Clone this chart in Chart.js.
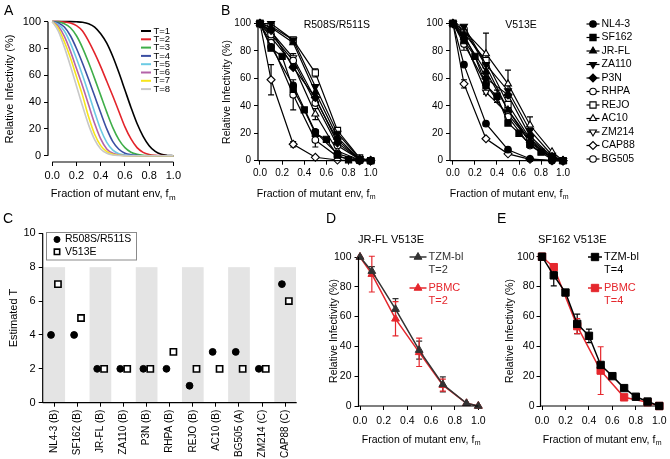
<!DOCTYPE html>
<html>
<head>
<meta charset="utf-8">
<script src="https://cdn.jsdelivr.net/npm/chart.js@4.4.1/dist/chart.umd.min.js"></script>
<style>
  html, body { margin: 0; padding: 0; background: #fff; }
  #wrap { position: relative; width: 670px; height: 459px; }
  #wrap canvas { position: absolute; left: 0; top: 0; }
</style>
</head>
<body>
<div id="wrap">
  <canvas id="cA" width="670" height="459"></canvas>
  <canvas id="cB1" width="670" height="459"></canvas>
  <canvas id="cB2" width="670" height="459"></canvas>
  <canvas id="cC" width="670" height="459"></canvas>
  <canvas id="cD" width="670" height="459"></canvas>
  <canvas id="cE" width="670" height="459"></canvas>
</div>
<script>
// ---- panel A: model curves at f = 0, 0.05 ... 1.0
const fGrid = [0, 0.05, 0.1, 0.15, 0.2, 0.25, 0.3, 0.35, 0.4, 0.45, 0.5, 0.55, 0.6, 0.65, 0.7, 0.75, 0.8, 0.85, 0.9, 0.95, 1.0];
const tLabels = ['T=1', 'T=2', 'T=3', 'T=4', 'T=5', 'T=6', 'T=7', 'T=8'];
const curveT1 = [100, 100, 100, 100, 99.9, 99.6, 98.5, 96, 91, 84, 74, 62, 49, 36, 24, 14.5, 7.5, 3.2, 1, 0.2, 0];
const curveT2 = [100, 100, 99.8, 99, 97, 93, 85.5, 76.5, 66.5, 55.5, 44.5, 33, 21.5, 12.5, 6, 2.5, 0.9, 0.3, 0.1, 0, 0];
const curveT3 = [100, 99.7, 98.5, 95.5, 89.5, 80.5, 69.5, 57.5, 45, 32.5, 21, 12, 6, 2.6, 1, 0.3, 0.1, 0, 0, 0, 0];
const curveT4 = [100, 99, 96, 89.5, 80, 69, 57, 44.5, 32, 20, 10.5, 4.8, 1.9, 0.7, 0.2, 0, 0, 0, 0, 0, 0];
const curveT5 = [100, 98, 93, 84, 72.5, 60, 46.5, 32.5, 19.5, 10, 4.2, 1.5, 0.5, 0.1, 0, 0, 0, 0, 0, 0, 0];
const curveT6 = [100, 96.5, 89, 78, 65, 52, 38, 24, 12.5, 5, 1.8, 0.5, 0.1, 0, 0, 0, 0, 0, 0, 0, 0];
const curveT7 = [100, 95, 85, 73, 59, 45, 29, 16, 7.5, 3, 1, 0.3, 0, 0, 0, 0, 0, 0, 0, 0, 0];
const curveT8 = [100, 93, 81, 67, 52, 37, 23, 12, 5, 1.8, 0.5, 0.1, 0, 0, 0, 0, 0, 0, 0, 0, 0];
const curveColors = ['#000000', '#e3242b', '#3fae49', '#3b4ea2', '#6ccbe4', '#b463a8', '#f7e51c', '#c8c8c8'];

// ---- panel B: measured infectivity per strain
const strains = ['NL4-3', 'SF162', 'JR-FL', 'ZA110', 'P3N', 'RHPA', 'REJO', 'AC10', 'ZM214', 'CAP88', 'BG505'];
const fSparse = [0, 0.1, 0.3, 0.5, 0.7, 0.9, 1.0];
const fDense = [0, 0.1, 0.2, 0.3, 0.4, 0.5, 0.6, 0.7, 0.8, 0.9, 1.0];
const denseStrain = 'SF162';
const r508Vals = [
  [100, 83, 55, 21, 5, 0.5, 0],
  [100, 82, 76, 52, 37, 20, 15.5, 4, 0.7, 0.5, 0],
  [100, 97, 86, 50, 17, 1, 0],
  [100, 100, 88, 54, 20, 1.5, 0],
  [100, 95, 68, 46, 13, 1, 0],
  [100, 92, 73, 42, 11, 1, 0],
  [100, 98, 88, 64, 22, 2, 0],
  [100, 90, 70, 34, 7, 0.5, 0],
  [100, 94, 75, 45, 15, 1, 0],
  [100, 59, 12, 2.5, 0.5, 0, 0],
  [100, 86, 48, 15, 3, 0, 0]
];
const r508Err = [
  [0, 2, 0, 0, 0, 0, 0],
  [0, 0, 0, 0, 0, 0, 0, 0, 0, 0, 0],
  [0, 0, 0, 0, 0, 0, 0],
  [0, 0, 0, 0, 0, 0, 0],
  [0, 0, 0, 0, 0, 0, 0],
  [0, 0, 5, 0, 0, 0, 0],
  [0, 0, 0, 3, 0, 0, 0],
  [0, 0, 0, 4, 0, 0, 0],
  [0, 0, 0, 0, 0, 0, 0],
  [0, 11, 2, 0, 0, 0, 0],
  [0, 0, 11, 5, 0, 0, 0]
];
const v513Vals = [
  [100, 70, 27, 8, 1.4, 0, 0],
  [100, 87.5, 76, 55, 47, 27.5, 20, 12, 6.2, 3, 0],
  [100, 90, 65, 37, 15, 2, 0],
  [100, 98, 70, 51, 22, 4, 0],
  [100, 92, 60, 48, 18, 3, 0],
  [100, 85, 56, 32, 11, 1, 0],
  [100, 93, 73, 41, 16, 3, 0],
  [100, 95, 78, 56, 26, 6.5, 0],
  [100, 88, 50, 34, 14, 2, 0],
  [100, 56, 16, 5, 1, 0, 0],
  [100, 96, 69, 37, 13, 2, 0]
];
const v513Err = [
  [0, 0, 0, 0, 0, 0, 0],
  [0, 7, 0, 6.5, 4.5, 0, 0, 0, 0, 0, 0],
  [0, 0, 0, 0, 0, 0, 0],
  [0, 0, 0, 0, 0, 0, 0],
  [0, 0, 0, 0, 0, 0, 0],
  [0, 0, 0, 0, 0, 0, 0],
  [0, 0, 0, 0, 0, 0, 0],
  [0, 0, 15, 10, 6, 0, 0],
  [0, 0, 0, 0, 0, 0, 0],
  [0, 3, 0, 0, 0, 0, 0],
  [0, 0, 0, 0, 0, 0, 0]
];
// marker per strain: [pointStyle, rotation, filled]
const strainMarker = [
  ['circle', 0, true], ['rect', 0, true], ['triangle', 0, true], ['triangle', 180, true], ['rectRot', 0, true],
  ['circle', 0, false], ['rect', 0, false], ['triangle', 0, false], ['triangle', 180, false], ['rectRot', 0, false], ['circle', 0, false]
];

// ---- panel C: estimated T
const categories = ['NL4-3 (B)', 'SF162 (B)', 'JR-FL (B)', 'ZA110 (B)', 'P3N (B)', 'RHPA (B)', 'REJO (B)', 'AC10 (B)', 'BG505 (A)', 'ZM214 (C)', 'CAP88 (C)'];
const estT508 = [4, 4, 2, 2, 2, 2, 1, 3, 3, 2, 7];
const estT513 = [7, 5, 2, 2, 2, 3, 2, 2, 2, 2, 6];
const bandTop = 8;

// ---- panel D: JR-FL V513E
const dTzm = [100, 90.5, 65, 37.5, 14.5, 1.8, 0];
const dTzmErr = [0, 3, 7, 6, 5, 0, 0];
const dPbmc = [100, 88.5, 58.5, 36, 14, 1.8, 0];
const dPbmcErr = [0, 12, 11.5, 9.5, 4, 0, 0];
const dT = ['T=2', 'T=2'];

// ---- panel E: SF162 V513E
const eTzm = [100, 87.5, 76, 55, 47, 27.5, 20, 12, 6.2, 3, 0];
const eTzmErr = [0, 7, 0, 6.5, 4.5, 0, 0, 0, 0, 0, 0];
const ePbmc = [100, 93, 53.5, 23.7, 5.8, 2.5, 0];
const ePbmcErr = [0, 1.5, 5, 16, 0, 0, 0];
const eT = ['T=4', 'T=4'];

const cellLines = ['TZM-bl', 'PBMC'];
const xTicks = [0, 0.2, 0.4, 0.6, 0.8, 1.0];
const yTicks = [0, 20, 40, 60, 80, 100];

const FONT = '"Liberation Sans", Arial, sans-serif';
const W = 670, H = 459;
const RED = '#e5272d';

Chart.defaults.font.family = FONT;
Chart.defaults.color = '#000';
Chart.defaults.animation = false;
Chart.defaults.responsive = false;
Chart.defaults.events = [];
Chart.defaults.plugins.legend.display = false;
Chart.defaults.plugins.tooltip.enabled = false;

// scales get a fixed size so the plot area sits where we want it
// (tick labels are clipped to the scale box, so keep it big enough)
const SW = 40;
function fixW(s) { s.width = SW; s.paddingTop = s.paddingBottom = s.paddingLeft = s.paddingRight = 0; }
function fixHeight(h) {
  return s => { s.height = h; s.paddingTop = s.paddingBottom = s.paddingLeft = s.paddingRight = 0; };
}
function padFor(a, xh) {
  return { left: a.l - SW, top: a.t, right: W - a.r, bottom: H - a.b - (xh || SW) };
}

function axis(min, max, ticks, fs, fmt, fix, pad, rot) {
  return {
    type: 'linear', min, max,
    afterBuildTicks: s => { s.ticks = ticks.map(v => ({ value: v })); },
    afterFit: fix,
    grid: { drawOnChartArea: false, tickLength: 4, color: '#000', lineWidth: 1 },
    border: { display: false },
    ticks: { font: { size: fs }, color: '#000', padding: pad, autoSkip: false, minRotation: rot || 0, maxRotation: rot || 0, callback: fmt }
  };
}

// axis lines drawn from value to value (lets the axes sit detached)
function axisLines(xr, yr) {
  return {
    id: 'axisLines',
    afterDraw(chart) {
      const { ctx, chartArea: a, scales: { x, y } } = chart;
      ctx.save();
      ctx.strokeStyle = '#000';
      ctx.lineWidth = 1.2;
      ctx.beginPath();
      ctx.moveTo(x.getPixelForValue(xr[0]), a.bottom);
      ctx.lineTo(x.getPixelForValue(xr[1]), a.bottom);
      ctx.moveTo(a.left, y.getPixelForValue(yr[0]));
      ctx.lineTo(a.left, y.getPixelForValue(yr[1]));
      ctx.stroke();
      ctx.restore();
    }
  };
}

const errorBars = {
  id: 'errorBars',
  beforeDatasetsDraw(chart) {
    const { ctx, scales: { x, y } } = chart;
    chart.data.datasets.forEach(ds => {
      if (!ds.err) return;
      ctx.save();
      ctx.strokeStyle = ds.borderColor;
      ctx.lineWidth = 1.2;
      ds.data.forEach((p, j) => {
        const e = ds.err[j];
        if (!e) return;
        const px = x.getPixelForValue(p.x);
        const hi = y.getPixelForValue(p.y + e), lo = y.getPixelForValue(p.y - e);
        ctx.beginPath();
        ctx.moveTo(px, hi); ctx.lineTo(px, lo);
        ctx.moveTo(px - 3, hi); ctx.lineTo(px + 3, hi);
        ctx.moveTo(px - 3, lo); ctx.lineTo(px + 3, lo);
        ctx.stroke();
      });
      ctx.restore();
    });
  }
};

// free text: panel letters, axis titles, subtitles
function texts(items) {
  return {
    id: 'texts',
    afterDraw(chart) {
      const ctx = chart.ctx;
      items.forEach(t => {
        const fs = t.size || 11;
        ctx.save();
        ctx.fillStyle = t.color || '#000';
        ctx.textBaseline = 'middle';
        ctx.translate(t.x, t.y);
        if (t.rot) ctx.rotate(t.rot * Math.PI / 180);
        ctx.font = fs + 'px ' + FONT;
        if (t.sub) {
          const w1 = ctx.measureText(t.text).width;
          ctx.font = Math.round(fs * 0.7) + 'px ' + FONT;
          const w2 = ctx.measureText(t.sub).width;
          const x0 = -(w1 + w2) / 2;
          ctx.textAlign = 'left';
          ctx.fillText(t.sub, x0 + w1 + 0.5, fs * 0.3);
          ctx.font = fs + 'px ' + FONT;
          ctx.fillText(t.text, x0, 0);
        } else {
          ctx.textAlign = t.align || 'center';
          ctx.fillText(t.text, 0, 0);
        }
        ctx.restore();
      });
    }
  };
}

// prism-like legend: short line with the marker on it, label to the right
function markerLegend(x, y, dy, half, fs, extra) {
  return {
    id: 'markerLegend',
    afterDraw(chart) {
      const ctx = chart.ctx;
      chart.data.datasets.forEach((ds, i) => {
        const yy = y + i * dy;
        ctx.save();
        ctx.strokeStyle = ds.borderColor;
        ctx.lineWidth = ds.borderWidth;
        ctx.beginPath();
        ctx.moveTo(x - half, yy); ctx.lineTo(x + half, yy);
        ctx.stroke();
        if (ds.pointRadius) {
          ctx.fillStyle = ds.pointBackgroundColor;
          ctx.lineWidth = ds.pointBorderWidth;
          Chart.helpers.drawPoint(ctx, { pointStyle: ds.pointStyle, radius: ds.pointRadius, rotation: ds.pointRotation || 0, borderWidth: 1 }, x, yy);
        }
        ctx.fillStyle = extra ? ds.borderColor : '#000';
        ctx.font = fs + 'px ' + FONT;
        ctx.textAlign = 'left';
        ctx.textBaseline = 'middle';
        ctx.fillText(ds.label, x + half + 2, yy);
        if (extra) ctx.fillText(extra[i], x + half + 2, yy + 12.5);
        ctx.restore();
      });
    }
  };
}

function pts(xs, ys) { return ys.map((v, i) => ({ x: xs[i], y: v })); }

function xTitle(x, y, fs) { return { text: 'Fraction of mutant env, f', sub: 'm', x, y, size: fs }; }
function yTitle(x, y, fs) { return { text: 'Relative Infectivity (%)', x, y, rot: -90, size: fs }; }
function letter(t, x, y) { return { text: t, x, y, size: 14, align: 'left' }; }

function plot(id, o) {
  return new Chart(document.getElementById(id), {
    type: 'scatter',
    data: { datasets: o.datasets },
    options: {
      layout: { padding: padFor(o.area) },
      scales: {
        x: axis(o.x[0], o.x[1], xTicks, o.fs, v => v.toFixed(1), fixHeight(SW), o.xpad),
        y: axis(o.y[0], o.y[1], yTicks, o.fs, v => String(v), fixW, o.ypad)
      }
    },
    plugins: [axisLines(o.xLine, o.yLine), errorBars].concat(o.plugins)
  });
}

// ---------- A
const curves = [curveT1, curveT2, curveT3, curveT4, curveT5, curveT6, curveT7, curveT8];
plot('cA', {
  area: { l: 48, t: 21, r: 174, b: 162 },
  x: [-0.035, 1.005], y: [-4.7, 100.5], fs: 11, xpad: 3, ypad: 3,
  xLine: [0, 1], yLine: [0, 100],
  datasets: curves.map((c, i) => ({
    label: tLabels[i], data: pts(fGrid, c), showLine: true,
    borderColor: curveColors[i], backgroundColor: curveColors[i], borderWidth: 1.6,
    pointRadius: 0, cubicInterpolationMode: 'monotone', clip: false
  })).reverse(),
  plugins: [
    {
      id: 'tLegend',
      afterDraw(chart) {
        const ctx = chart.ctx;
        tLabels.forEach((t, i) => {
          const yy = 31 + i * 8.3;
          ctx.save();
          ctx.strokeStyle = curveColors[i];
          ctx.lineWidth = 2;
          ctx.beginPath(); ctx.moveTo(141, yy); ctx.lineTo(151, yy); ctx.stroke();
          ctx.fillStyle = '#000';
          ctx.font = '9.5px ' + FONT;
          ctx.textBaseline = 'middle';
          ctx.fillText(t, 153.5, yy);
          ctx.restore();
        });
      }
    },
    texts([letter('A', 4, 11), yTitle(10, 89, 11), xTitle(113, 194, 11)])
  ]
});

// ---------- B
function strainSets(vals, errs) {
  return strains.map((s, i) => {
    const m = strainMarker[i];
    const r = m[0] === 'circle' ? 3.3 : (m[0] === 'rect' ? 4.4 : 4);
    return {
      label: s, data: pts(s === denseStrain ? fDense : fSparse, vals[i]), err: errs[i],
      showLine: true, borderColor: '#000', borderWidth: 1.2,
      pointStyle: m[0], pointRotation: m[1], pointRadius: r,
      pointBackgroundColor: m[2] ? '#000' : '#fff', pointBorderColor: '#000', pointBorderWidth: 1.1,
      clip: false
    };
  });
}

plot('cB1', {
  area: { l: 258, t: 22, r: 372, b: 160.7 },
  x: [-0.018, 1.012], y: [0, 101.1], fs: 10, xpad: 3, ypad: 3,
  xLine: [-0.018, 1], yLine: [0, 100],
  datasets: strainSets(r508Vals, r508Err),
  plugins: [texts([
    letter('B', 221, 11), yTitle(227, 92, 10.5), xTitle(316, 194, 10.5),
    { text: 'R508S/R511S', x: 370, y: 25, size: 10.5, align: 'right' }
  ])]
});

plot('cB2', {
  area: { l: 450, t: 22, r: 565, b: 160.7 },
  x: [-0.027, 1.018], y: [0, 101.1], fs: 10, xpad: 3, ypad: 3,
  xLine: [-0.027, 1], yLine: [0, 100],
  datasets: strainSets(v513Vals, v513Err),
  plugins: [
    markerLegend(593, 24, 13.5, 6.5, 10.5),
    texts([xTitle(509, 194, 10.5), { text: 'V513E', x: 521, y: 25, size: 10.5 }])
  ]
});

// ---------- C
// grey bands behind every other strain, placed with the x/y scales
const bands = {
  id: 'bands',
  beforeDatasetsDraw(chart) {
    const { ctx, scales: { x, y } } = chart;
    ctx.save();
    ctx.fillStyle = '#e4e4e4';
    categories.forEach((c, i) => {
      if (i % 2) return;
      const l = x.getPixelForValue(i - 0.47), r = x.getPixelForValue(i + 0.47);
      const t = y.getPixelForValue(bandTop), b = y.getPixelForValue(0);
      ctx.fillRect(l, t, r - l, b - t);
    });
    ctx.restore();
  }
};

const cArea = { l: 42.7, t: 233.3, r: 296.7, b: 402.7 };
const cXH = H - cArea.b;
new Chart(document.getElementById('cC'), {
  type: 'scatter',
  data: {
    datasets: [
      {
        label: 'R508S/R511S', data: estT508.map((v, i) => ({ x: i - 0.14, y: v })),
        pointStyle: 'circle', pointRadius: 3.4, backgroundColor: '#000', borderColor: '#000', clip: false
      },
      {
        label: 'V513E', data: estT513.map((v, i) => ({ x: i + 0.16, y: v })),
        pointStyle: 'rect', pointRadius: 4.4, backgroundColor: '#fff', borderColor: '#000', borderWidth: 1.6, clip: false
      }
    ]
  },
  options: {
    layout: { padding: padFor(cArea, cXH) },
    scales: {
      x: axis(-0.5, 10.5, categories.map((c, i) => i), 10, v => categories[v], fixHeight(cXH), 3, 90),
      y: axis(0, 10, [0, 2, 4, 6, 8, 10], 11, v => String(v), fixW, 3)
    }
  },
  plugins: [
    bands,
    axisLines([-0.5, 10.5], [0, 10]),
    {
      id: 'boxLegend',
      afterDraw(chart) {
        const ctx = chart.ctx;
        ctx.save();
        ctx.fillStyle = '#fff';
        ctx.strokeStyle = '#8a8a8a';
        ctx.lineWidth = 1;
        ctx.fillRect(46.5, 232.5, 90, 27.5);
        ctx.strokeRect(46.5, 232.5, 90, 27.5);
        chart.data.datasets.forEach((ds, i) => {
          const yy = 239.5 + i * 12.3;
          ctx.fillStyle = ds.backgroundColor;
          ctx.strokeStyle = '#000';
          ctx.lineWidth = ds.borderWidth || 1;
          Chart.helpers.drawPoint(ctx, { pointStyle: ds.pointStyle, radius: ds.pointStyle === 'rect' ? 3.8 : 3, rotation: 0, borderWidth: 1 }, 57, yy);
          ctx.fillStyle = '#000';
          ctx.font = '10.5px ' + FONT;
          ctx.textBaseline = 'middle';
          ctx.fillText(ds.label, 65, yy);
        });
        ctx.restore();
      }
    },
    texts([letter('C', 3, 219), { text: 'Estimated T', x: 14, y: 318, rot: -90, size: 11 }])
  ]
});

// ---------- D
function pairSets(xa, a, aErr, xb, b, bErr, blackColor, style, r) {
  const mk = (label, xs, ys, err, col) => ({
    label, data: pts(xs, ys), err, showLine: true,
    borderColor: col, borderWidth: 1.5, pointStyle: style, pointRadius: r,
    pointBackgroundColor: col, pointBorderColor: col, pointBorderWidth: 1, clip: false
  });
  return [mk(cellLines[0], xa, a, aErr, blackColor), mk(cellLines[1], xb, b, bErr, RED)];
}

plot('cD', {
  area: { l: 358.5, t: 257, r: 480, b: 406 },
  x: [-0.0127, 1.014], y: [0, 100], fs: 10.5, xpad: 5, ypad: 3,
  xLine: [-0.0127, 1], yLine: [0, 100],
  datasets: pairSets(fSparse, dTzm, dTzmErr, fSparse, dPbmc, dPbmcErr, '#333333', 'triangle', 4.5),
  plugins: [
    markerLegend(418, 257, 31, 8.5, 11, dT),
    texts([letter('D', 326, 219), { text: 'JR-FL V513E', x: 358, y: 240, size: 11, align: 'left' },
      yTitle(334, 331, 10.5), xTitle(421, 440, 10.5)])
  ]
});

// ---------- E
plot('cE', {
  area: { l: 540.5, t: 256.7, r: 661, b: 406 },
  x: [-0.013, 1.0145], y: [0, 100], fs: 10.5, xpad: 5, ypad: 2,
  xLine: [-0.013, 1], yLine: [0, 100],
  datasets: pairSets(fDense, eTzm, eTzmErr, fSparse, ePbmc, ePbmcErr, '#000000', 'rect', 5.2),
  plugins: [
    markerLegend(595, 257, 31, 7, 11, eT),
    texts([letter('E', 497, 219), { text: 'SF162 V513E', x: 538, y: 240, size: 11, align: 'left' },
      yTitle(510, 331, 10.5), xTitle(602, 440, 10.5)])
  ]
});
</script>
</body>
</html>
